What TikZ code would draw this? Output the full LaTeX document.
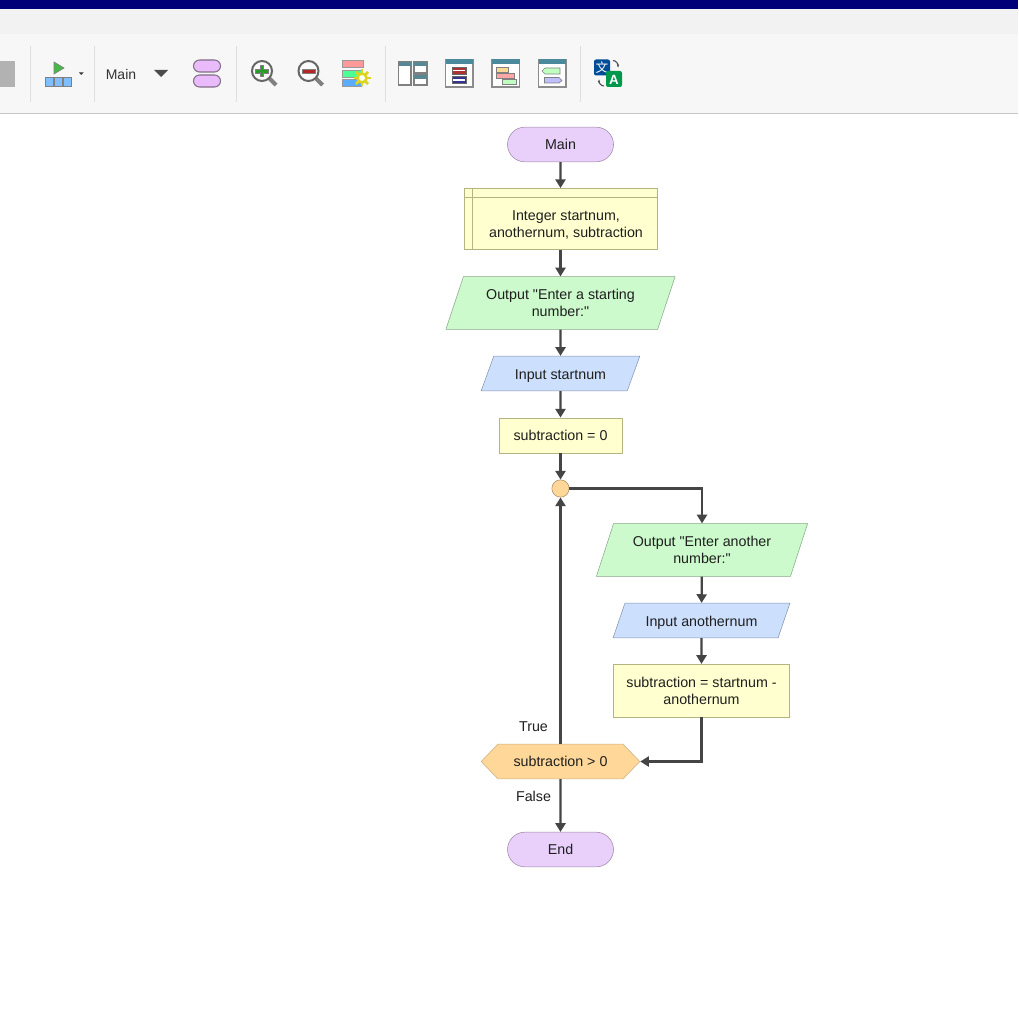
\documentclass[tikz,border=0pt]{standalone}
\usepackage{fontspec}
\setmainfont{Liberation Sans}
\newfontfamily\flowfont{Liberation Sans}
\newfontfamily\cjkfont{Noto Sans CJK SC}
\usetikzlibrary{shapes.geometric, shapes.misc, shapes.symbols, arrows.meta}

\definecolor{linegray}{HTML}{454545}
\definecolor{pinkfill}{HTML}{E8D0FA}
\definecolor{pinkline}{HTML}{A088A8}
\definecolor{yellowfill}{HTML}{FFFFCF}
\definecolor{yellowline}{HTML}{B4B480}
\definecolor{greenfill}{HTML}{CCFACC}
\definecolor{greenline}{HTML}{88A888}
\definecolor{bluefill}{HTML}{CCDFFC}
\definecolor{blueline}{HTML}{8494B0}
\definecolor{orangefill}{HTML}{FFD899}
\definecolor{orangeline}{HTML}{CCB080}
\definecolor{teal}{HTML}{4A8A9C}

\tikzset{
    flowtext/.style={font=\flowfont\fontsize{10.7pt}{12.7pt}\selectfont, text=black!88, align=center, inner sep=0pt},
    terminal/.style={flowtext, rounded rectangle, draw=pinkline, fill=pinkfill, minimum width=79.5pt, minimum height=26pt},
    process/.style={flowtext, rectangle, draw=yellowline, fill=yellowfill},
    slanted/.style={flowtext, trapezium, trapezium left angle=64, trapezium right angle=116, trapezium stretches=true},
    outbox/.style={slanted, draw=greenline, fill=greenfill, minimum height=39.5pt},
    inbox/.style={slanted, draw=blueline, fill=bluefill, minimum height=26pt, text height=11pt},
    decision/.style={flowtext, signal, signal to=west and east, signal pointer angle=92, draw=orangeline, fill=orangefill, minimum width=119pt, minimum height=26pt},
    joint/.style={circle, draw=orangeline!80!black, fill=orangefill, minimum size=13pt, inner sep=0pt},
    arrow/.style={-{Triangle[width=7.5pt,length=6.5pt]}, line width=1.7pt, linegray},
    sep/.style={line width=0.6pt, black!13}
}

\begin{document}
\begin{tikzpicture}[x=0.75pt, y=-0.75pt]
    \useasboundingbox (0,0) rectangle (1018,1024);
    %window bars
    \fill[white] (0,0) rectangle (1018,1024);
    \fill[black!5] (0,9) rectangle (1018,34);
    \fill[black!3] (0,34) rectangle (1018,113);
    \fill[blue!47!black] (0,0) rectangle (1018,9);
    \draw[line width=0.8pt, black!22] (0,113.5) -- (1018,113.5);
    \foreach \x in {30,94,236,385,580}
        \draw[sep] (\x,46) -- (\x,102);
    \fill[black!30] (0,61) rectangle (15,87);

    %run icon
    \filldraw[fill=green!45!gray, draw=black!50, line width=0.5pt] (54,62) -- (64,68) -- (54,74) -- cycle;
    \foreach \x in {45,54,63}
        \filldraw[fill=blue!50!cyan!50, draw=black!50, line width=0.5pt] (\x,77) rectangle ++(8.5,9);
    \fill[black!80] (79,72.5) -- (83.5,72.5) -- (81.2,75) -- cycle;
    \node[font=\fontsize{10.5pt}{12pt}\selectfont, text=black!80, inner sep=0pt] (mainlabel) at (121,74.5) {Main};
    \fill[black!70] (154,70) -- (168,70) -- (161,77) -- cycle;
    \foreach \y in {60,75}
        \filldraw[rounded corners=4.5pt, fill=pinkfill!90!magenta, draw=pinkline!80!black, line width=0.8pt] (193.5,\y) rectangle ++(27,12);

    %zoom icons
    \foreach \x/\c in {262/green!55!black!85, 308.5/red!65!black!85} {
        \draw[line width=3pt, black!50] (\x+7,78) -- (\x+14,85);
        \filldraw[fill=black!2, draw=black!60, line width=1.5pt] (\x,71) circle (10);
        \filldraw[fill=\c, draw=black!50, line width=0.3pt] (\x-6.5,69.5) rectangle (\x+6.5,73);
    }
    \filldraw[fill=green!55!black!85, draw=black!50, line width=0.3pt] (260,65.5) rectangle (263.5,76.5);
    \fill[green!55!black!85] (256,70) rectangle (268,72.5);

    %settings icon
    \filldraw[fill=red!40, draw=black!40, line width=0.5pt] (342,60.5) rectangle (363,67);
    \filldraw[fill=green!60!cyan!70, draw=black!40, line width=0.5pt] (342,70) rectangle (361,77);
    \filldraw[fill=blue!50!cyan!65, draw=black!40, line width=0.5pt] (342,79.5) rectangle (361,86);
    \foreach \a in {0,45,...,315}
        \draw[line width=2pt, yellow!85!black] (362,78) ++(\a:5) -- ++(\a:3.5);
    \filldraw[fill=white, draw=yellow!85!black, line width=2pt] (362,78) circle (4.5);

    %panel icon
    \foreach \a/\b/\c/\d in {398.5/62/411/85, 414/62/427/73, 414/75/427/85} {
        \filldraw[fill=white, draw=black!50, line width=0.9pt] (\a,\b) rectangle (\c,\d);
        \fill[teal!70!gray] (\a,\b) rectangle (\c,\b+4);
    }
    %window icons
    \foreach \x in {445.5,492,538.5} {
        \filldraw[fill=white, draw=black!45, line width=0.9pt] (\x,60) rectangle (\x+27.5,87);
        \fill[teal] (\x,59.5) rectangle (\x+27.5,64);
    }
    \filldraw[fill=red!60!black!80, draw=black!60, line width=0.5pt] (452,67) rectangle (466,74);
    \fill[white] (453,70) rectangle (465,71.5);
    \filldraw[fill=blue!50!black!80, draw=black!60, line width=0.5pt] (452,76.5) rectangle (466,83.5);
    \fill[white] (453,79.5) rectangle (465,81);
    \filldraw[fill=yellowfill!70!orange, draw=black!50, line width=0.5pt] (496,67.5) rectangle (508,72);
    \filldraw[fill=red!35, draw=black!50, line width=0.5pt] (496,73.5) rectangle (514,78);
    \filldraw[fill=green!25, draw=black!50, line width=0.5pt] (502,79.5) rectangle (516,84);
    \filldraw[fill=green!25, draw=black!50, line width=0.5pt] (545,68) -- (560,68) -- (560,74) -- (545,74) -- (542,71) -- cycle;
    \filldraw[fill=blue!25, draw=black!50, line width=0.5pt] (544.5,77.5) -- (559,77.5) -- (562,80.5) -- (559,83) -- (544.5,83) -- cycle;

    %translate icon
    \fill[blue!50!cyan!60!black, rounded corners=1.5pt] (594,59.5) rectangle (610,75.5);
    \node[font=\cjkfont\fontsize{9.5pt}{9.5pt}\selectfont, text=white, inner sep=0pt] (wenlabel) at (602,67.5) {文};
    \fill[green!50!cyan!60!black, rounded corners=1.5pt] (606,71) rectangle (622,87);
    \node[font=\bfseries\fontsize{10pt}{10pt}\selectfont, text=white, inner sep=0pt] (alabel) at (614,79.5) {A};
    \draw[-{Latex[length=2.5pt]}, line width=0.8pt, black!70] (613,60.5) to[out=0, in=90] (618,68);
    \draw[-{Latex[length=2.5pt]}, line width=0.8pt, black!70] (604,86) to[out=180, in=270] (599,79);

    %flowchart
    \node[terminal](Main) at (560.5,144.5) {Main};
    \node[process, minimum width=144.5pt, minimum height=46pt](Declare) at (560.5,219) {};
    \node[flowtext](DeclareText) at (566,225) {Integer startnum,\\anothernum, subtraction};
    \draw[yellowline, line width=0.4pt] (Declare.north west) ++(8,0) -- ++(0,62);
    \draw[yellowline, line width=0.4pt] (Declare.north west) ++(0,9) -- ++(193,0);
    \node[outbox, minimum width=172pt](OutputStart) at (560.5,303) {Output "Enter a starting\\number:"};
    \node[inbox, minimum width=119pt](InputStart) at (560.5,373.5) {Input startnum};
    \node[process, minimum width=92pt, minimum height=26.5pt](Init) at (560.5,435.5) {subtraction = 0};
    \node[joint](Loop) at (560.5,488.5) {};
    \node[outbox, minimum width=158.5pt](OutputAnother) at (702,550) {Output "Enter another\\number:"};
    \node[inbox, minimum width=133pt](InputAnother) at (701.5,620.5) {Input anothernum};
    \node[process, minimum width=132pt, minimum height=39.5pt](Update) at (701.5,690.5) {subtraction = startnum -\\anothernum};
    \node[decision](Test) at (560.5,761.5) {subtraction > 0};
    \node[terminal](End) at (560.5,849.5) {End};
    \node[flowtext](TrueLabel) at (533.5,726.5) {True};
    \node[flowtext](FalseLabel) at (533.5,796.5) {False};

    \draw[arrow] (Main) -- (Declare);
    \draw[arrow] (Declare) -- (OutputStart);
    \draw[arrow] (OutputStart) -- (InputStart);
    \draw[arrow] (InputStart) -- (Init);
    \draw[arrow] (Init) -- (Loop);
    \draw[arrow] (Loop.east) -| (OutputAnother.north);
    \draw[arrow] (OutputAnother) -- (InputAnother);
    \draw[arrow] (InputAnother) -- (Update);
    \draw[arrow] (Update.south) |- (Test.east);
    \draw[arrow] (Test.north) -- (Loop.south);
    \draw[arrow] (Test) -- (End);
\end{tikzpicture}
\end{document}
